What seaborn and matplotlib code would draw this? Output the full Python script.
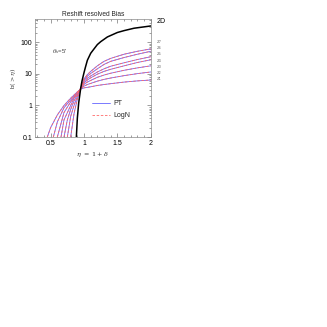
import numpy as np
import pandas as pd
import seaborn as sns
import matplotlib
matplotlib.use("Agg")
import matplotlib.pyplot as plt
from matplotlib.lines import Line2D

# ---- data ----
x_2d = [0.885, 0.9, 0.92, 0.95, 0.97, 1.0, 1.02, 1.05, 1.1, 1.15, 1.2, 1.25, 1.35, 1.5, 1.6, 1.75, 2.0]
y_2d = [0.1, 0.4, 1.2, 3.5, 6.0, 11, 16, 27, 45, 62, 85, 105, 148, 205, 235, 280, 330]

x_z1 = [0.45, 0.5, 0.6, 0.7, 0.8, 0.9, 0.95, 1.0, 1.05, 1.1, 1.2, 1.3, 1.4, 1.6, 1.8, 2.0]
y_z1 = [0.1, 0.2, 0.5, 1.0, 1.7, 2.7, 3.3, 3.6, 3.75, 3.9, 4.3, 4.6, 4.9, 5.5, 6.0, 6.4]
x_z2 = [0.54, 0.6, 0.7, 0.8, 0.9, 0.95, 1.0, 1.05, 1.1, 1.2, 1.3, 1.4, 1.6, 1.8, 2.0]
y_z2 = [0.1, 0.3, 0.85, 1.5, 2.6, 3.4, 4.1, 4.6, 5.0, 5.9, 6.7, 7.4, 8.8, 10.2, 11.5]
x_z3 = [0.60, 0.7, 0.8, 0.9, 0.95, 1.0, 1.05, 1.1, 1.2, 1.3, 1.4, 1.6, 1.8, 2.0]
y_z3 = [0.1, 0.6, 1.3, 2.5, 3.4, 4.7, 5.5, 6.2, 7.8, 9.2, 10.5, 13, 15.5, 18]
x_z4 = [0.655, 0.7, 0.8, 0.85, 0.9, 0.95, 1.0, 1.05, 1.1, 1.2, 1.3, 1.4, 1.6, 1.8, 2.0]
y_z4 = [0.1, 0.35, 1.0, 1.7, 2.35, 3.5, 5.2, 6.4, 7.5, 9.8, 12, 14, 18, 23, 28]
x_z5 = [0.70, 0.75, 0.8, 0.85, 0.9, 0.95, 1.0, 1.05, 1.1, 1.2, 1.3, 1.4, 1.6, 1.8, 2.0]
y_z5 = [0.1, 0.35, 0.75, 1.4, 2.2, 3.5, 5.8, 7.3, 8.6, 11.5, 14.5, 17.5, 22.5, 28.5, 35]
x_z6 = [0.75, 0.8, 0.85, 0.9, 0.95, 1.0, 1.05, 1.1, 1.2, 1.3, 1.4, 1.6, 1.8, 2.0]
y_z6 = [0.1, 0.45, 1.0, 1.95, 3.5, 6.4, 8.5, 10.3, 14.5, 20, 25, 33, 42, 52]
x_z7 = [0.80, 0.85, 0.9, 0.95, 1.0, 1.05, 1.1, 1.2, 1.3, 1.4, 1.6, 1.8, 2.0]
y_z7 = [0.1, 0.55, 1.6, 3.5, 7.0, 9.5, 12, 18, 25, 31, 42, 52, 62]

z_names = ["z1", "z2", "z3", "z4", "z5", "z6", "z7"]
z_labels = ["z\u2087", "z\u2086", "z\u2085", "z\u2084", "z\u2083", "z\u2082", "z\u2081"]
models = ["PT", "LogN"]

xs = [x_z1, x_z2, x_z3, x_z4, x_z5, x_z6, x_z7]
ys = [y_z1, y_z2, y_z3, y_z4, y_z5, y_z6, y_z7]

rows = []
for m in models:
    for name, xx, yy in zip(z_names, xs, ys):
        for a, b in zip(xx, yy):
            rows.append({"eta": a, "b": b, "z": name, "model": m})
df = pd.DataFrame(rows)
df2d = pd.DataFrame({"eta": x_2d, "b": y_2d})

sns.set_style("ticks")
plt.rcParams["font.family"] = ["Liberation Sans", "DejaVu Sans"]
plt.rcParams["mathtext.fontset"] = "dejavuserif"

fig = plt.figure(figsize=(3.27, 3.27), dpi=100)
ax = fig.add_axes([0.107, 0.581, 0.354, 0.361])

blue = "#6464ff"
red = "#ff6a6a"

sns.lineplot(data=df[df.model == "PT"], x="eta", y="b", units="z", estimator=None,
             color=blue, lw=0.6, ax=ax, legend=False, sort=False)
sns.lineplot(data=df[df.model == "LogN"], x="eta", y="b", units="z", estimator=None,
             color=red, lw=0.6, ax=ax, legend=False, sort=False)
for ln in ax.lines[len(z_names):]:
    ln.set_dashes([3, 2])
sns.lineplot(data=df2d, x="eta", y="b", color="black", lw=1.1, ax=ax, legend=False)

ax.set_yscale("log")
ax.set_xlim(0.265, 2.0)
ax.set_ylim(0.1, 550)
ax.set_xticks([0.5, 1, 1.5, 2])
ax.set_xticklabels(["0.5", "1", "1.5", "2"])
ax.set_yticks([0.1, 1, 10, 100])
ax.set_yticklabels(["0.1", "1", "10", "100"])
ax.xaxis.set_minor_locator(matplotlib.ticker.MultipleLocator(0.1))
ax.tick_params(which="both", direction="in", top=True, right=True,
               labelsize=5, colors="#555555", labelcolor="black", width=0.4, pad=2)
ax.tick_params(which="major", length=3)
ax.tick_params(which="minor", length=1.5)
for s in ax.spines.values():
    s.set_color("#888888")
    s.set_linewidth(0.5)

ax.set_title("Reshift resolved Bias", fontsize=4.8, pad=2)
ax.set_xlabel(r"$\eta\ =\ 1+\delta$", fontsize=4.6, labelpad=2, color="#333333")
ax.set_ylabel(r"b$(>\eta)$", fontsize=4.6, labelpad=2, color="#444444")

ax.text(0.15, 0.71, r"$\theta_s$=5'", transform=ax.transAxes, fontsize=4.3, color="#444444")

ax.text(1.05, 0.975, "2D", transform=ax.transAxes, fontsize=5, color="black", va="center")
ax.text(1.05, 0.83, "\n".join(z_labels), transform=ax.transAxes, fontsize=3.8,
        color="#777777", va="top", ha="left", linespacing=1.3,
        family=["DejaVu Sans"])

handles = [Line2D([], [], color=blue, lw=0.6),
           Line2D([], [], color=red, lw=0.6, dashes=[3, 2])]
ax.legend(handles, models, loc="center left", bbox_to_anchor=(0.44, 0.23), frameon=False,
          fontsize=5, handlelength=2.6, handletextpad=0.5, labelspacing=0.7)

fig.savefig("out.png", dpi=100)
